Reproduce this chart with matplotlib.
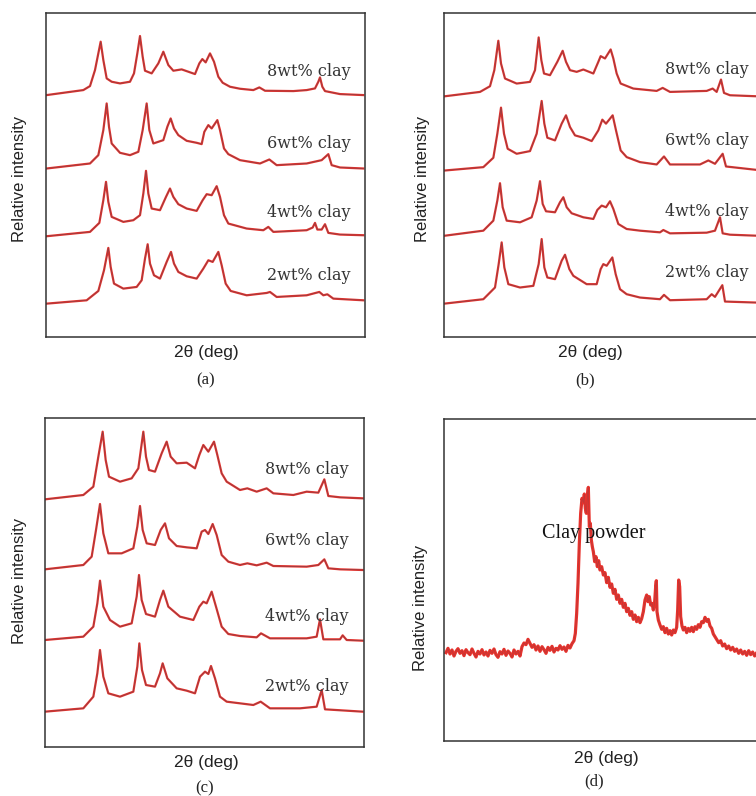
import matplotlib
matplotlib.use('Agg')
import matplotlib.pyplot as plt

# XRD traces (x: relative 2-theta units, y: relative intensity incl. stacking offset)
labels = ['8wt% clay', '6wt% clay', '4wt% clay', '2wt% clay']

# panel (a)
a8_x = [20,130,150,165,175,182,190,200,215,240,270,282,292,300,308,315,335,355,370,385,400,425,445,465,478,487,497,510,522,535,548,570,600,640,658,675,760,800,825,835,840,847,855,900,970]
a8_y = [775,790,802,850,900,935,880,825,815,810,815,840,900,952,890,848,840,870,905,865,848,852,845,838,870,883,873,900,875,830,812,800,794,790,798,788,787,790,795,815,828,800,787,778,775]
a6_x = [20,150,175,190,200,207,215,240,270,295,308,320,328,340,370,382,392,402,415,440,470,485,493,505,515,532,540,552,565,600,660,688,710,800,845,865,875,900,970]
a6_y = [555,570,595,670,750,680,630,602,595,605,670,750,670,630,640,680,705,675,655,638,632,628,665,685,675,700,670,615,598,580,570,582,565,570,580,598,565,558,555]
a4_x = [20,150,178,190,198,205,215,250,280,300,310,318,325,335,360,378,390,400,415,440,470,488,500,515,530,540,552,565,620,670,685,700,800,818,825,832,845,855,865,900,970]
a4_y = [352,365,392,460,515,455,410,395,400,415,480,548,480,435,430,470,495,470,448,435,428,460,478,475,502,470,415,390,375,370,380,365,370,378,392,372,372,388,362,357,355]
a2_x = [20,140,175,192,205,212,222,250,290,305,315,323,330,342,360,380,393,402,415,440,470,490,505,518,535,545,557,572,620,680,690,710,800,838,850,862,880,970]
a2_y = [150,160,188,250,317,260,210,195,200,220,285,328,270,235,225,275,305,270,245,232,225,255,280,275,305,265,210,188,175,182,185,170,175,185,175,178,165,160]

# panel (b)
b8_x = [15,120,150,163,175,183,195,230,270,285,296,304,312,330,352,368,378,390,410,430,460,475,482,495,512,520,530,542,580,650,668,690,800,818,830,843,852,870,948]
b8_y = [772,785,802,850,938,870,825,810,815,850,948,880,840,835,875,908,875,850,845,852,840,875,892,885,912,885,840,810,795,788,797,785,788,795,785,822,782,775,772]
b6_x = [15,130,160,172,183,192,203,230,270,290,305,313,322,345,365,378,390,405,430,455,475,487,498,518,528,542,560,600,650,672,690,780,805,825,848,858,948]
b6_y = [550,560,588,660,738,660,615,600,608,660,758,690,648,640,690,715,680,655,648,638,670,702,690,715,670,610,590,575,568,592,568,568,580,570,600,562,552]
b4_x = [15,130,160,172,180,188,200,240,275,290,300,308,318,345,360,370,380,395,430,460,472,485,498,510,520,535,560,600,660,670,690,800,825,840,848,870,948]
b4_y = [355,370,400,460,512,440,400,395,410,460,518,450,428,425,455,470,440,422,410,405,432,445,440,458,435,390,375,370,365,372,362,364,370,410,362,358,355]
b2_x = [15,130,165,176,185,193,205,240,280,296,305,313,322,345,365,375,388,400,440,470,482,490,500,517,527,540,560,600,660,672,690,800,815,825,847,855,948]
b2_y = [152,165,200,270,335,260,210,200,205,270,345,260,230,225,280,298,255,235,210,210,255,270,265,290,240,195,180,170,165,178,162,165,180,172,207,158,155]

# panel (c)
c8_x = [15,130,160,175,188,197,207,240,275,295,310,318,327,345,365,380,392,410,440,465,478,490,505,522,532,545,560,600,622,650,680,700,760,800,835,853,865,900,968]
c8_y = [732,745,770,860,935,850,800,785,795,825,935,860,820,815,870,905,860,840,842,825,865,895,875,905,865,810,785,760,765,755,765,750,745,755,752,792,742,738,735]
c6_x = [15,130,155,168,180,190,205,245,280,292,300,308,320,345,362,375,387,410,440,470,485,495,505,518,530,545,565,600,622,650,680,700,800,835,853,865,900,968]
c6_y = [522,535,560,640,718,630,570,570,585,650,712,640,600,595,640,660,615,592,588,585,635,640,628,658,625,565,545,535,540,534,542,532,530,535,552,525,522,520]
c4_x = [15,130,160,172,180,190,210,240,275,290,297,305,318,345,360,370,385,420,460,478,490,500,515,528,545,565,600,650,663,690,800,830,840,850,900,908,920,968]
c4_y = [310,320,350,420,488,410,370,350,360,440,505,430,388,380,430,458,410,380,370,410,425,420,455,410,350,328,322,318,330,315,315,320,372,312,312,324,310,308]
c2_x = [15,130,160,172,180,190,205,240,280,292,298,306,318,345,360,368,382,410,440,465,480,495,505,513,525,540,560,640,662,690,780,830,845,855,968]
c2_y = [95,105,140,210,280,200,150,140,155,230,300,220,175,170,210,240,195,165,158,150,200,215,208,232,195,140,125,115,125,105,105,110,160,102,95]

# panel (d), clay powder (noisy trace)
d_pts = [(18,272),(24,285),(30,268),(36,280),(42,262),(48,276),(54,284),(60,270),(66,278),(72,263),
         (78,281),(84,272),(90,266),(96,283),(102,270),(108,259),(114,276),(120,268),(126,281),(132,265),
         (138,274),(144,262),(150,279),(156,270),(162,283),(168,266),(174,258),(180,275),(186,268),(192,282),
         (198,264),(204,277),(210,270),(216,259),(222,280),(228,268),(234,276),(240,262),(246,290),(252,301),
         (258,296),(264,312),(270,300),(276,288),(282,296),(288,280),(294,292),(300,276),(306,290),(312,281),
         (318,270),(324,288),(330,279),(336,291),(342,274),(348,285),(354,280),(360,293),(366,282),(372,289),
         (378,276),(384,294),(390,286),(396,299),(402,308),(406,330),(410,390),(414,480),(418,600),(422,690),
         (426,735),(430,722),(433,748),(436,705),(439,690),(442,740),(445,768),(448,650),(451,660),(454,610),
         (457,590),(460,575),(464,545),(468,560),(472,530),(476,548),(480,520),(485,530),(490,505),(495,512),
         (500,482),(505,498),(510,468),(515,478),(520,450),(525,462),(530,432),(535,445),(540,420),(545,432),
         (550,408),(555,420),(560,395),(565,405),(570,384),(575,395),(580,372),(585,385),(590,365),(595,378),
         (600,362),(605,374),(610,395),(615,430),(620,445),(624,425),(628,440),(632,415),(636,420),(640,400),
         (644,425),(647,470),(649,488),(651,395),(655,370),(660,355),(665,342),(670,350),(675,332),(680,345),
         (685,328),(690,338),(695,325),(700,340),(705,332),(710,348),(713,400),(716,490),(719,470),(722,380),
         (726,352),(730,340),(735,348),(740,332),(745,345),(750,336),(755,348),(760,335),(765,350),(770,342),
         (775,356),(780,348),(785,365),(790,362),(795,378),(800,366),(805,372),(810,352),(815,345),(820,328),
         (825,320),(830,312),(836,302),(842,308),(848,292),(854,298),(860,284),(866,292),(872,280),(878,288),
         (884,276),(890,283),(896,270),(902,280),(908,268),(914,276),(920,264),(926,278),(932,266),(938,274),
         (944,262),(950,272),(956,268),(962,276),(969,270)]
d_x = [p[0] for p in d_pts]
d_y = [p[1] for p in d_pts]

RED = '#e8322c'
CORE = '#8a4046'
FRAME = '#333333'

fig = plt.figure(figsize=(7.56, 7.96), dpi=100)


def frame(ax, xlim, ylim):
    ax.set_xlim(*xlim)
    ax.set_ylim(*ylim)
    ax.set_xticks([])
    ax.set_yticks([])
    for s in ax.spines.values():
        s.set_color(FRAME)
        s.set_linewidth(1.1)


def stacked_panel(rect, curves, xlim, ylim, label_x, label_y):
    ax = fig.add_axes(rect)
    for x, y in curves:
        ax.plot(x, y, color=RED, lw=1.6, solid_joinstyle='round')
        ax.plot(x, y, color=CORE, lw=0.5, solid_joinstyle='round')
    frame(ax, xlim, ylim)
    for txt, ty in zip(labels, label_y):
        ax.text(label_x, ty, txt, transform=ax.transAxes, family='DejaVu Serif',
                fontsize=11.5, color='#333333', ha='left', va='center')
    return ax


W, H = 756.0, 796.0
stacked_panel([46/W, 1-337/H, 319/W, 324/H],
              [(a8_x, a8_y), (a6_x, a6_y), (a4_x, a4_y), (a2_x, a2_y)],
              (18, 975), (50, 1021), 0.692, [0.82, 0.598, 0.383, 0.191])
stacked_panel([444/W, 1-337/H, 319/W, 324/H],
              [(b8_x, b8_y), (b6_x, b6_y), (b4_x, b4_y), (b2_x, b2_y)],
              (12, 969), (52, 1021), 0.693, [0.826, 0.605, 0.386, 0.198])
stacked_panel([45/W, 1-747/H, 319/W, 329/H],
              [(c8_x, c8_y), (c6_x, c6_y), (c4_x, c4_y), (c2_x, c2_y)],
              (15, 972), (-11, 976), 0.69, [0.842, 0.629, 0.398, 0.185])

axd = fig.add_axes([444/W, 1-741/H, 319/W, 322/H])
axd.plot(d_x, d_y, color=RED, lw=2.3)
axd.plot(d_x, d_y, color=CORE, lw=0.4, alpha=0.6)
frame(axd, (12, 969), (7, 973))
axd.text(0.47, 0.643, 'Clay powder', transform=axd.transAxes, family='Liberation Serif',
         fontsize=14.5, color='#111111', ha='center', va='center')

# outer labels
sans = dict(family='Liberation Sans', color='#222222', ha='center', va='center')
serif = dict(family='Liberation Serif', color='#222222', ha='center', va='center')
for x, y in [(20, 179), (422, 179), (20, 581), (421, 608)]:
    fig.text(x/W, 1-y/H, 'Relative intensity', rotation=90, fontsize=12, **sans)
for x, y in [(206, 352), (590, 352), (206, 763), (606, 758)]:
    fig.text(x/W, 1-y/H, '2θ (deg)', fontsize=12.5, **sans)
for x, y, t in [(206, 380, '(a)'), (585, 380, '(b)'), (205, 788, '(c)'), (594, 781, '(d)')]:
    fig.text(x/W, 1-y/H, t, fontsize=12, **serif)

fig.savefig('out.png', dpi=100)
